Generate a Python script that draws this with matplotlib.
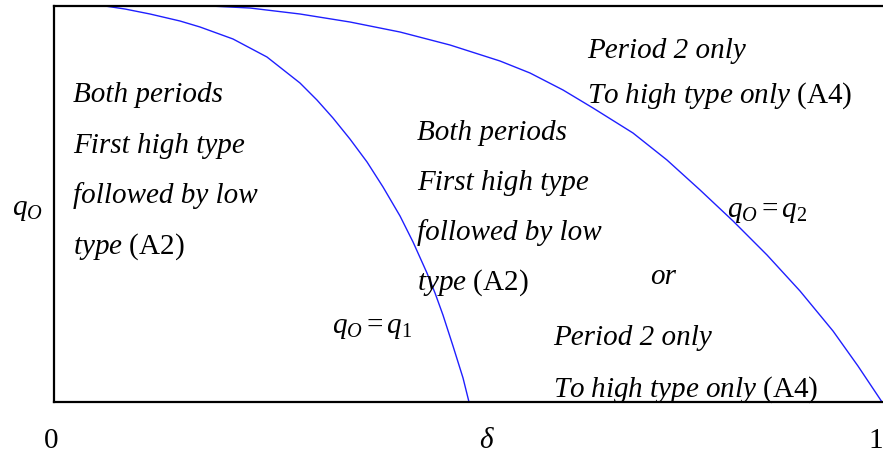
import matplotlib
matplotlib.use("Agg")
import matplotlib.pyplot as plt

plt.rcParams['font.family'] = ['Liberation Serif', 'DejaVu Serif']
plt.rcParams['mathtext.fontset'] = 'custom'
plt.rcParams['mathtext.rm'] = 'Liberation Serif'
plt.rcParams['mathtext.it'] = 'Liberation Serif:italic'

# boundary q_O = q_1
curve1_delta = [0.0, 0.0615, 0.0856, 0.1158, 0.1520, 0.1761, 0.2159, 0.2569, 0.2967,
                0.3172, 0.3365, 0.3570, 0.3776, 0.3969, 0.4174, 0.4331, 0.4499,
                0.4596, 0.4692, 0.4813, 0.4934, 0.5006]
curve1_q = [1.0, 1.0, 0.9924, 0.9798, 0.9621, 0.9470, 0.9167, 0.8712, 0.8056,
            0.7626, 0.7172, 0.6641, 0.6061, 0.5429, 0.4697, 0.4040, 0.3258,
            0.2753, 0.2197, 0.1414, 0.0606, 0.0]

# boundary q_O = q_2
curve2_delta = [0.0, 0.1882, 0.2364, 0.2967, 0.3570, 0.4174, 0.4777, 0.5380, 0.5742,
                0.6140, 0.6502, 0.6984, 0.7394, 0.7793, 0.8191, 0.8601, 0.8999,
                0.9397, 0.9698, 0.9988]
curve2_q = [1.0, 1.0, 0.9949, 0.9798, 0.9596, 0.9343, 0.9015, 0.8611, 0.8308,
            0.7879, 0.7424, 0.6793, 0.6111, 0.5354, 0.4571, 0.3712, 0.2803,
            0.1793, 0.0909, 0.0]

left_region = ['Both periods', 'First high type', 'followed by low', r'$\mathit{type}$ (A2)']
mid_region = ['Both periods', 'First high type', 'followed by low', r'$\mathit{type}$ (A2)']
top_region = ['Period 2 only', r'$\mathit{To\ high\ type\ only}$ (A4)']
low_region = ['Period 2 only', r'$\mathit{To\ high\ type\ only}$ (A4)']

W, H = 883, 458
fig = plt.figure(figsize=(W / 100, H / 100), dpi=100)
# plot box in pixels: left 54, right 883, top 6, bottom 402
ax = fig.add_axes([54 / W, (H - 402) / H, (W - 54) / W, (402 - 6) / H])
ax.set_xlim(0, 1)
ax.set_ylim(0, 1)

ax.plot(curve1_delta, curve1_q, color='#1f1fff', lw=1.0, clip_on=False)
ax.plot(curve2_delta, curve2_q, color='#1f1fff', lw=1.0, clip_on=False)

for side in ['left', 'top', 'bottom']:
    ax.spines[side].set_linewidth(1.6)
    ax.spines[side].set_color('black')
ax.spines['right'].set_visible(False)
ax.set_xticks([])
ax.set_yticks([])


def px(x, y):
    # pixel position -> data coords
    return (x - 54) / 829, (402 - y) / 396


fs = 21


def block(lines, x0, y0, step):
    for i, s in enumerate(lines):
        x, y = px(x0, y0 + i * step)
        style = 'normal' if s.startswith('$') else 'italic'
        ax.text(x, y, s, fontsize=fs, style=style, ha='left', va='baseline')


block(left_region, 73, 102, 50.7)
block(mid_region, 417, 140, 50)
block(top_region, 587, 58, 45)
block(low_region, 553, 345, 52)

x, y = px(650, 284)
ax.text(x, y, 'or', fontsize=fs, style='italic', ha='left', va='baseline')

x, y = px(332, 328)
ax.text(x, y, r'$q_O = q_1$', fontsize=fs, ha='left', va='center')
x, y = px(727, 212)
ax.text(x, y, r'$q_O = q_2$', fontsize=fs, ha='left', va='center')

# axis labels
fig.text(27 / W, 1 - 210 / H, r'$q_O$', fontsize=fs, ha='center', va='center')
fig.text(51 / W, 1 - 441 / H, '0', fontsize=fs, ha='center', va='center')
fig.text(487 / W, 1 - 441 / H, r'$\delta$', fontsize=fs, ha='center', va='center')
fig.text(876 / W, 1 - 441 / H, '1', fontsize=fs, ha='center', va='center')

fig.savefig('out.png', dpi=100)
